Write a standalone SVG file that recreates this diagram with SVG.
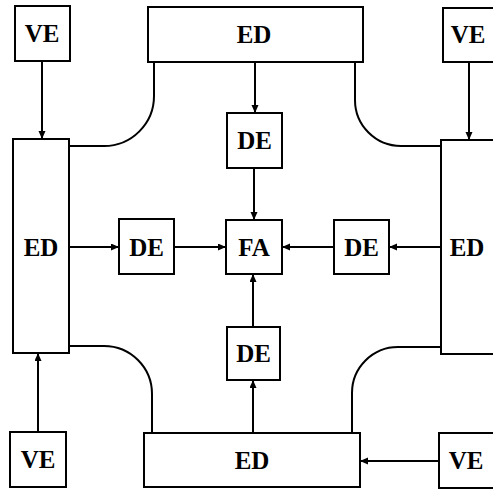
<svg xmlns="http://www.w3.org/2000/svg" width="493" height="490" viewBox="0 0 493 490">
<style>
.box{fill:#fff;stroke:#000;stroke-width:2}
.lbl{font-family:"Liberation Serif",serif;font-weight:bold;font-size:25px;text-anchor:middle;fill:#000}
.ln{fill:none;stroke:#000;stroke-width:2}
</style>
<defs>
<marker id="ah" markerUnits="userSpaceOnUse" markerWidth="9" markerHeight="8" refX="8" refY="3.5" orient="auto">
<path d="M0,0 L8,3.5 L0,7 z" fill="#000"/>
</marker>
</defs>
<rect width="493" height="490" fill="#fff"/>
<g id="connectors">
<path class="ln" d="M69,146 H104 A50,50 0 0 0 154,96 V62"/>
<path class="ln" d="M355,62 V100 A46,46 0 0 0 401,146 H441"/>
<path class="ln" d="M69,346 H104 A48,48 0 0 1 152,394 V433"/>
<path class="ln" d="M441,347 H398 A46,46 0 0 0 352,393 V433"/>
<line class="ln" x1="42" y1="61" x2="42" y2="139" marker-end="url(#ah)"/>
<line class="ln" x1="469" y1="62" x2="469" y2="140" marker-end="url(#ah)"/>
<line class="ln" x1="38" y1="432" x2="38" y2="353" marker-end="url(#ah)"/>
<line class="ln" x1="439" y1="461" x2="360" y2="461" marker-end="url(#ah)"/>
<line class="ln" x1="255" y1="62" x2="255" y2="113" marker-end="url(#ah)"/>
<line class="ln" x1="254" y1="168" x2="254" y2="220" marker-end="url(#ah)"/>
<line class="ln" x1="69" y1="247" x2="119" y2="247" marker-end="url(#ah)"/>
<line class="ln" x1="174" y1="247" x2="226" y2="247" marker-end="url(#ah)"/>
<line class="ln" x1="441" y1="247" x2="389" y2="247" marker-end="url(#ah)"/>
<line class="ln" x1="334" y1="247" x2="282" y2="247" marker-end="url(#ah)"/>
<line class="ln" x1="253" y1="433" x2="253" y2="380" marker-end="url(#ah)"/>
<line class="ln" x1="253" y1="327" x2="253" y2="274" marker-end="url(#ah)"/>
</g>
<g id="ve1"><rect class="box" x="15" y="6" width="55" height="55"/><text class="lbl" x="42" y="42">VE</text></g>
<g id="ed-top"><rect class="box" x="148" y="7" width="215" height="55"/><text class="lbl" x="254" y="43">ED</text></g>
<g id="ve2"><rect class="box" x="443" y="8" width="56" height="54"/><text class="lbl" x="468" y="43">VE</text></g>
<g id="ed-left"><rect class="box" x="13" y="139" width="56" height="214"/><text class="lbl" x="41" y="256">ED</text></g>
<g id="ed-right"><rect class="box" x="441" y="140" width="58" height="214"/><text class="lbl" x="467" y="256">ED</text></g>
<g id="de-top"><rect class="box" x="227" y="113" width="55" height="55"/><text class="lbl" x="254.5" y="149">DE</text></g>
<g id="de-left"><rect class="box" x="119" y="219" width="55" height="55"/><text class="lbl" x="146.5" y="256">DE</text></g>
<g id="fa"><rect class="box" x="226" y="220" width="56" height="54"/><text class="lbl" x="254" y="256">FA</text></g>
<g id="de-right"><rect class="box" x="334" y="220" width="55" height="54"/><text class="lbl" x="361.5" y="256">DE</text></g>
<g id="de-bottom"><rect class="box" x="227" y="327" width="53" height="53"/><text class="lbl" x="253.5" y="362">DE</text></g>
<g id="ed-bottom"><rect class="box" x="144" y="433" width="216" height="54"/><text class="lbl" x="252" y="469">ED</text></g>
<g id="ve3"><rect class="box" x="10" y="432" width="56" height="55"/><text class="lbl" x="38" y="468">VE</text></g>
<g id="ve4"><rect class="box" x="439" y="433" width="58" height="55"/><text class="lbl" x="466" y="469">VE</text></g>
</svg>
